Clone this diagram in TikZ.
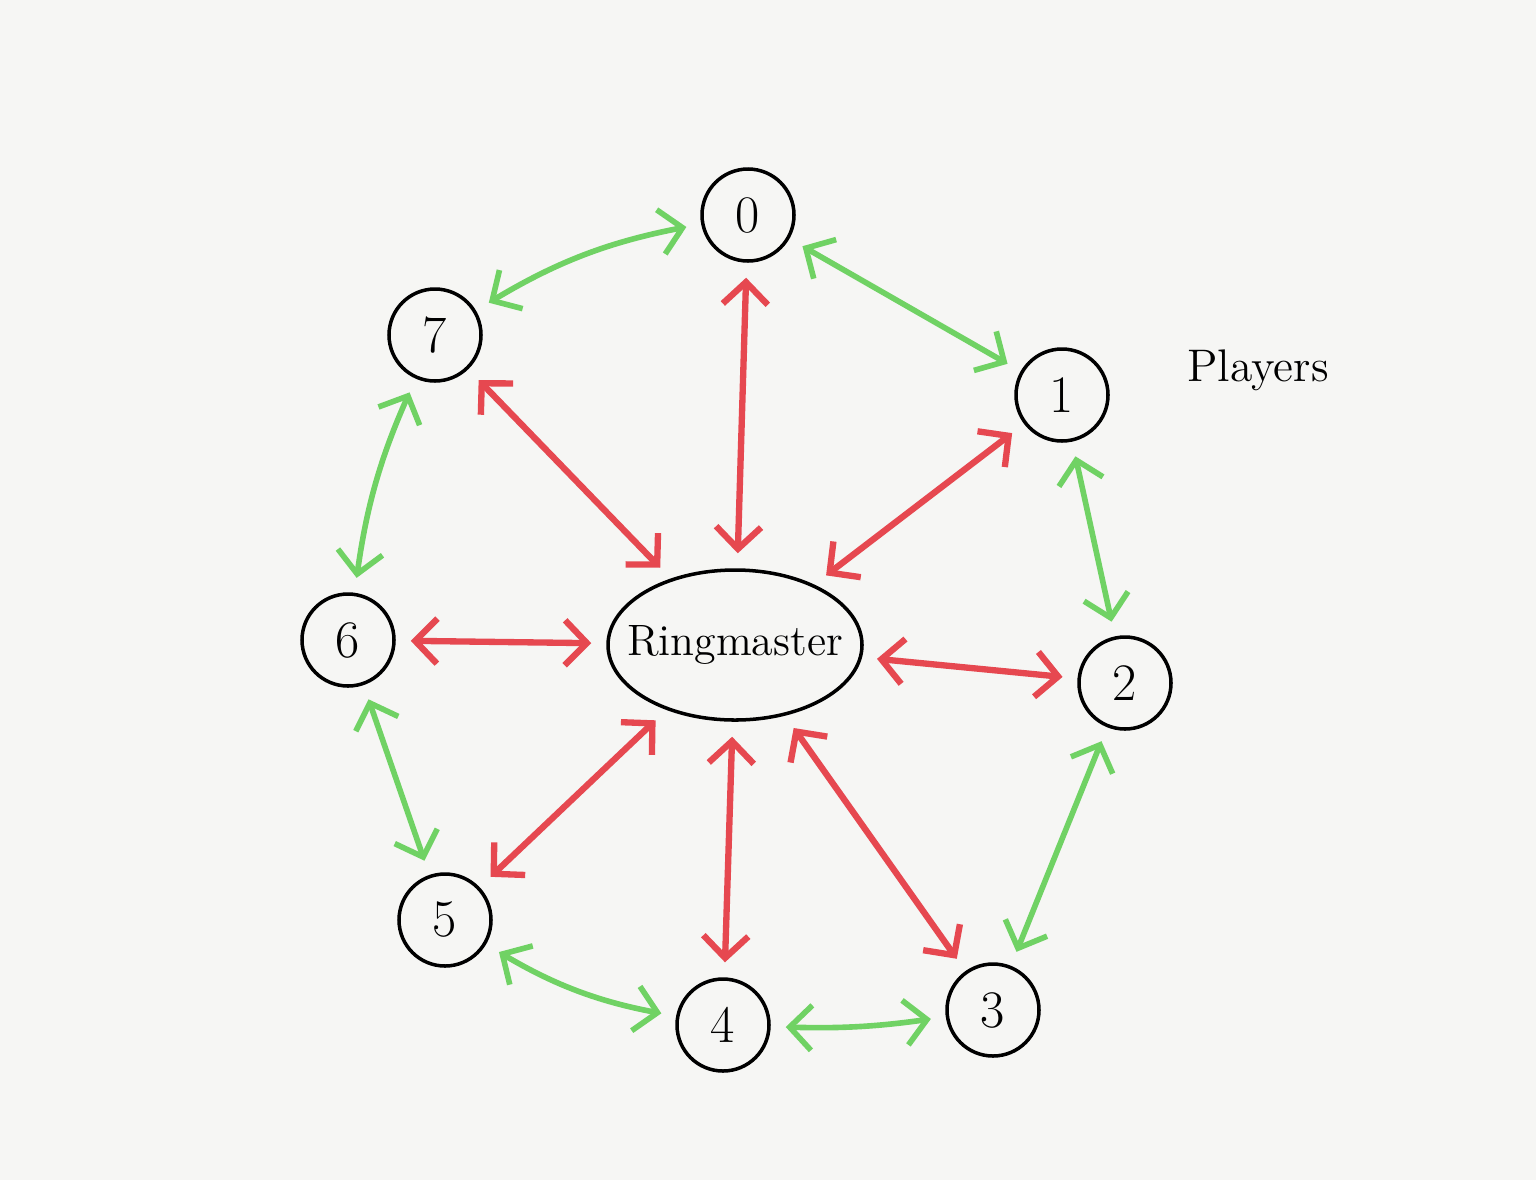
\documentclass[tikz,border=0pt]{standalone}
\usepackage{tikz}
\usetikzlibrary{positioning,shapes,arrows.meta}
\definecolor{paper}{RGB}{246,246,244}
\definecolor{ringgreen}{RGB}{112,210,100}
\definecolor{ringred}{RGB}{230,72,80}

\begin{document}
\begin{tikzpicture}[thick,
                    main node/.style={circle,draw,line width=1pt,minimum size=0.92cm,
                                      inner sep=0pt,font=\fontsize{15}{18}\selectfont},
                    master node/.style={ellipse,draw,line width=1pt,minimum width=2.54cm,
                                        minimum height=1.5cm,inner sep=0pt,
                                        font=\fontsize{12.5}{14}\selectfont},
                    >={Straight Barb[length=2.2mm,width=4.5mm]},
                    green edge/.style={<->,ringgreen,line width=1.6pt,line cap=round,
                                       shorten <=1.5mm,shorten >=1.5mm},
                    red edge/.style={<->,ringred,line width=1.8pt,line cap=round,
                                     shorten <=1.5mm,shorten >=1.5mm}
                   ]
  \useasboundingbox[fill=paper] (0,0) rectangle (15.36,-11.8);
  \node[main node] (0) at (7.48,-2.15) {0};
  \node[main node] (1) at (10.62,-3.95) {1};
  \node[main node] (2) at (11.25,-6.83) {2};
  \node[main node] (3) at (9.93,-10.10) {3};
  \node[main node] (4) at (7.23,-10.25) {4};
  \node[main node] (5) at (4.45,-9.20) {5};
  \node[main node] (6) at (3.48,-6.40) {6};
  \node[main node] (7) at (4.35,-3.35) {7};
  \node[master node] (rm) at (7.35,-6.45) {\makebox[1.2cm][c]{Ringmaster}};
  \node[font=\fontsize{13}{16}\selectfont] (players) at (12.58,-3.70) {Players};
  % ring of players
  \path (7) edge[green edge,bend left=10] (0)
        (0) edge[green edge] (1)
        (1) edge[green edge] (2)
        (2) edge[green edge] (3)
        (3) edge[green edge,bend left=5] (4)
        (5) edge[green edge,bend right=10] (4)
        (5) edge[green edge] (6)
        (7) edge[green edge,bend right=8] (6);
  % ringmaster to each player
  \foreach \p in {0,...,7}
    \path (rm) edge[red edge] (\p);
\end{tikzpicture}
\end{document}
